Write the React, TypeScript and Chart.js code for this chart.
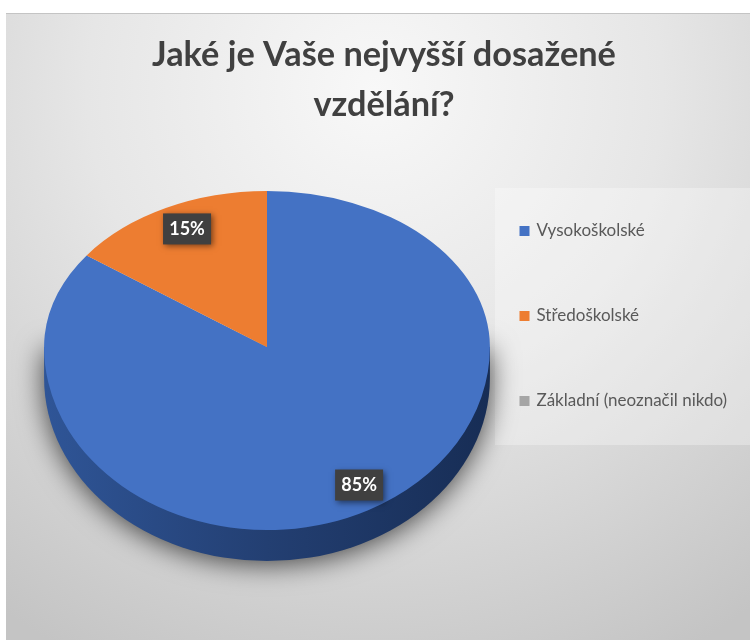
import React, { useEffect, useRef } from "react";
import { Chart, registerables } from "chart.js";

Chart.register(...registerables);

const titleLines = ["Jaké je Vaše nejvyšší dosažené", "vzdělání?"];
const categories = ["Vysokoškolské", "Středoškolské", "Základní (neoznačil nikdo)"];
const shares = [85, 15, 0];
const sliceColors = ["#4472C4", "#ED7D31", "#A5A5A5"];

const FONT = "Lato, 'Open Sans', sans-serif";
const RY_TOP = 156;
const RY_BOTTOM = 183;
const DEPTH = 31;

const backdrop = {
  id: "backdrop",
  beforeDraw(chart: any) {
    const { ctx, width, height } = chart;
    ctx.save();
    ctx.fillStyle = "#ffffff";
    ctx.fillRect(0, 0, width, height);
    const g = ctx.createRadialGradient(375, 90, 0, 375, 90, 640);
    g.addColorStop(0, "#f8f8f8");
    g.addColorStop(0.45, "#e6e6e6");
    g.addColorStop(1, "#c4c4c4");
    ctx.fillStyle = g;
    ctx.fillRect(6, 13, width - 6, height - 13);
    ctx.fillStyle = "#c4c4c4";
    ctx.fillRect(6, 13, width - 6, 1);
    ctx.fillStyle = "rgba(255,255,255,0.3)";
    ctx.fillRect(495, 188, width - 495, 257);
    ctx.restore();
  },
};

const placeBoxes = {
  id: "placeBoxes",
  afterLayout(chart: any) {
    const t = chart.titleBlock;
    t.left = 0;
    t.right = 768;
    t.top = 30;
    const l = chart.legend;
    l.left = 453;
    l.top = 154.5;
    l.right = 750;
    l.bottom = 640;
  },
};

const tiltedPie = {
  id: "tiltedPie",
  beforeDatasetDraw(chart: any, args: any) {
    const { ctx, width, height } = chart;
    const arc = args.meta.data[0];
    const cx = arc.x;
    const cy = arc.y;
    const R = arc.outerRadius;

    ctx.save();
    const g = ctx.createLinearGradient(cx - R, 0, cx + R, 0);
    g.addColorStop(0, "#2F5597");
    g.addColorStop(0.5, "#233F72");
    g.addColorStop(1, "#172D55");
    ctx.fillStyle = g;
    ctx.shadowColor = "rgba(0,0,0,0.7)";
    ctx.shadowBlur = 28;
    ctx.shadowOffsetY = 3;
    ctx.beginPath();
    ctx.moveTo(cx - R, cy);
    ctx.lineTo(cx - R, cy + DEPTH);
    ctx.ellipse(cx, cy + DEPTH, R, RY_BOTTOM, 0, Math.PI, 0, true);
    ctx.lineTo(cx + R, cy);
    ctx.closePath();
    ctx.fill();
    ctx.restore();

    const half = (y0: number, h: number, ry: number) => {
      ctx.save();
      ctx.beginPath();
      ctx.rect(0, y0, width, h);
      ctx.clip();
      ctx.translate(cx, cy);
      ctx.scale(1, ry / R);
      ctx.translate(-cx, -cy);
      args.meta.controller.draw();
      ctx.restore();
    };
    half(0, cy, RY_TOP);
    half(cy, height - cy, RY_BOTTOM);
    return false;
  },
  afterDatasetsDraw(chart: any) {
    const { ctx } = chart;
    const meta = chart.getDatasetMeta(0);
    const fracX = [0.91, 0.79];
    const fracY = [0.846, 0.85];
    meta.data.forEach((arc: any, i: number) => {
      const value = shares[i];
      if (!value) return;
      const mid = (arc.startAngle + arc.endAngle) / 2;
      const ux = Math.cos(mid) * fracX[i];
      const uy = Math.sin(mid) * fracY[i];
      const x = arc.x + ux * arc.outerRadius;
      const y = arc.y + uy * (uy < 0 ? RY_TOP : RY_BOTTOM);
      const w = 48;
      const h = 31;
      ctx.save();
      ctx.shadowColor = "rgba(0,0,0,0.5)";
      ctx.shadowBlur = 6;
      ctx.shadowOffsetX = 2;
      ctx.shadowOffsetY = 2;
      ctx.fillStyle = "#404040";
      ctx.fillRect(x - w / 2, y - h / 2, w, h);
      ctx.restore();
      ctx.save();
      ctx.fillStyle = "#ffffff";
      ctx.font = `bold 18px ${FONT}`;
      ctx.textAlign = "center";
      ctx.textBaseline = "middle";
      ctx.fillText(`${value}%`, x, y + 0.5);
      ctx.restore();
    });
  },
};

export default function App() {
  const ref = useRef<HTMLCanvasElement>(null);
  useEffect(() => {
    const chart = new Chart(ref.current as HTMLCanvasElement, {
      type: "pie",
      data: {
        labels: categories,
        datasets: [
          {
            data: shares,
            backgroundColor: sliceColors,
            borderWidth: 0,
          },
        ],
      },
      options: {
        animation: false,
        responsive: false,
        layout: { padding: { left: 44, top: 24, right: 260, bottom: 70 } },
        plugins: {
          tooltip: { enabled: false },
          title: {
            display: true,
            text: titleLines,
            color: "#404040",
            font: { family: FONT, size: 34.3, weight: "bold", lineHeight: 1.46 },
            padding: 0,
          },
          legend: {
            position: "chartArea",
            align: "start",
            labels: {
              padding: 68,
              boxWidth: 7,
              boxHeight: 7,
              color: "#595959",
              font: { family: FONT, size: 17 },
              generateLabels: () =>
                categories.map((text, i) => ({
                  text,
                  fillStyle: sliceColors[i],
                  strokeStyle: sliceColors[i],
                  fontColor: "#595959",
                  lineWidth: 3,
                  hidden: false,
                  index: i,
                })),
            },
          },
        },
      } as any,
      plugins: [backdrop, placeBoxes, tiltedPie],
    });
    return () => chart.destroy();
  }, []);
  return (
    <div style={{ position: "fixed", left: 0, top: 0, width: 750, height: 640 }}>
      <canvas ref={ref} width={750} height={640} style={{ display: "block" }} />
    </div>
  );
}
